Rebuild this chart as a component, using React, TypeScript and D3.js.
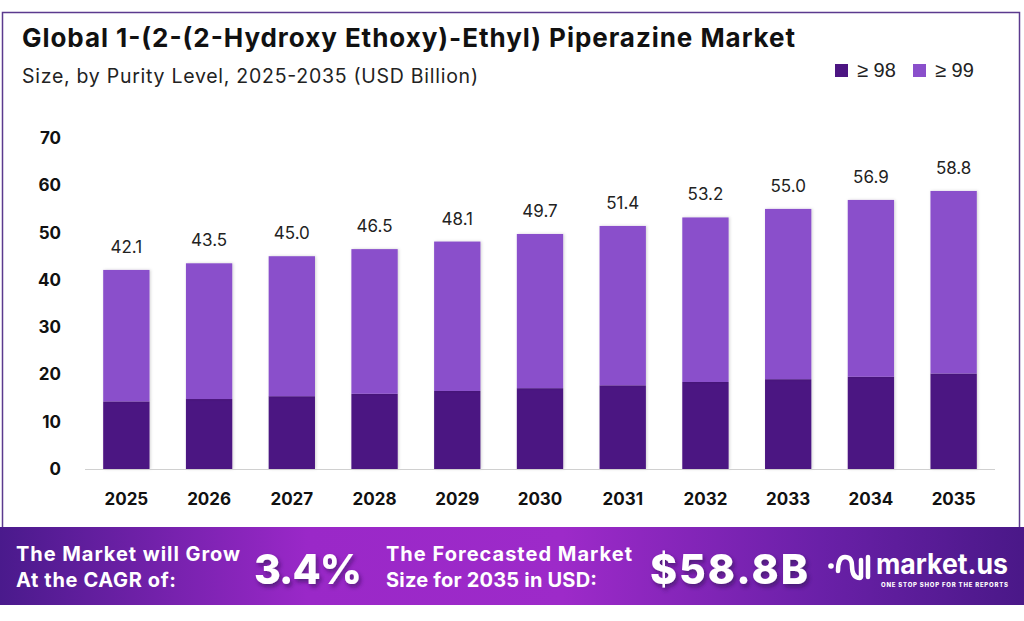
import { useMemo } from "react";
import * as d3 from "d3";

const years = ["2025", "2026", "2027", "2028", "2029", "2030", "2031", "2032", "2033", "2034", "2035"];
const totals = [42.1, 43.5, 45.0, 46.5, 48.1, 49.7, 51.4, 53.2, 55.0, 56.9, 58.8];
const purity98 = [14.3, 14.8, 15.4, 15.9, 16.5, 17.1, 17.7, 18.4, 19.0, 19.5, 20.2];
const purity99 = totals.map((t, i) => +(t - purity98[i]).toFixed(1));
const yTicks = [0, 10, 20, 30, 40, 50, 60, 70];

const seriesKeys = ["p98", "p99"];
const seriesLabels = ["≥ 98", "≥ 99"];
const seriesColors = ["#4c1582", "#8a4fcb"];

const W = 1024;
const H = 621;
const PLOT = { left: 85, right: 995, top: 138, bottom: 469 };

const FONT = "Inter, 'Noto Sans', sans-serif";
const ARIAL = "'Liberation Sans', Arial, sans-serif";

const App = () => {
  const x = useMemo(
    () => d3.scaleBand().domain(years).range([PLOT.left, PLOT.right]).paddingInner(0.44).paddingOuter(0.22),
    []
  );
  const y = useMemo(() => d3.scaleLinear().domain([0, 70]).range([PLOT.bottom, PLOT.top]), []);

  const rows = years.map((yr, i) => ({ year: yr, p98: purity98[i], p99: purity99[i] }));
  const stacked = d3.stack<any>().keys(seriesKeys)(rows);

  return (
    <div style={{ position: "absolute", left: 0, top: 0 }}>
      <svg width={W} height={H} style={{ display: "block" }}>
        <defs>
          <linearGradient id="band" x1="0" x2="1" y1="0" y2="0">
            <stop offset="0" stopColor="#4a1a8c" />
            <stop offset="0.3" stopColor="#9a28c8" />
            <stop offset="0.55" stopColor="#9d2ac9" />
            <stop offset="0.8" stopColor="#6a20a8" />
            <stop offset="1" stopColor="#4a1888" />
          </linearGradient>
          <filter id="shadow" x="-10%" y="-20%" width="130%" height="150%">
            <feDropShadow dx="2" dy="3" stdDeviation="2" floodColor="#2a0850" floodOpacity="0.6" />
          </filter>
          <filter id="barShadow" x="-20%" y="-5%" width="140%" height="110%">
            <feDropShadow dx="1" dy="0" stdDeviation="1.5" floodColor="#000" floodOpacity="0.18" />
          </filter>
        </defs>
        <rect width={W} height={H} fill="#fff" />
        {/* frame */}
        <rect x={2.5} y={12.5} width={1017} height={520} fill="none" stroke="#5b3a8e" strokeWidth={1.5} />

        <text x={22} y={47} fontFamily={FONT} fontWeight={700} fontSize={26} fill="#111" textLength={773} lengthAdjust="spacing">
          Global 1-(2-(2-Hydroxy Ethoxy)-Ethyl) Piperazine Market
        </text>
        <text x={22} y={83} fontFamily={FONT} fontSize={19.5} fill="#222" textLength={456} lengthAdjust="spacing">
          Size, by Purity Level, 2025-2035 (USD Billion)
        </text>

        {/* legend */}
        {seriesLabels.map((lab, i) => (
          <g key={lab} transform={`translate(${835 + i * 78},64)`}>
            <rect width={13} height={13} fill={seriesColors[i]} />
            <text x={22} y={13} fontFamily={ARIAL} fontSize={20} fill="#222">
              {lab}
            </text>
          </g>
        ))}

        {/* y axis labels */}
        {yTicks.map((t) => (
          <text key={t} x={61} y={y(t) + 6} textAnchor="end" fontFamily={FONT} fontWeight={700} fontSize={17} fill="#111">
            {t}
          </text>
        ))}

        {/* bars */}
        {stacked.map((s, si) => (
          <g key={s.key}>
            {s.map((d, i) => (
              <rect
                key={i}
                x={x(years[i])!}
                y={y(d[1])}
                width={x.bandwidth()}
                height={y(d[0]) - y(d[1])}
                fill={seriesColors[si]}
                filter="url(#barShadow)"
              />
            ))}
          </g>
        ))}

        <line x1={PLOT.left} x2={PLOT.right} y1={PLOT.bottom + 0.5} y2={PLOT.bottom + 0.5} stroke="#d0d0d0" strokeWidth={1} />

        {/* totals */}
        {totals.map((t, i) => (
          <text
            key={i}
            x={x(years[i])! + x.bandwidth() / 2}
            y={y(t) - 17}
            textAnchor="middle"
            fontFamily={FONT}
            fontSize={17}
            fill="#222"
          >
            {t.toFixed(1)}
          </text>
        ))}

        {/* x labels */}
        {years.map((yr) => (
          <text
            key={yr}
            x={x(yr)! + x.bandwidth() / 2}
            y={505}
            textAnchor="middle"
            fontFamily={FONT}
            fontWeight={700}
            fontSize={17}
            fill="#111"
          >
            {yr}
          </text>
        ))}

        {/* banner */}
        <rect x={0} y={527} width={W} height={78} fill="url(#band)" />
        <g fontFamily={FONT} fontWeight={700} fill="#fff">
          <text x={16} y={561} fontSize={20} textLength={224} lengthAdjust="spacing">The Market will Grow</text>
          <text x={16} y={587} fontSize={20} textLength={160} lengthAdjust="spacing">At the CAGR of:</text>
          <text x={254} y={584} fontSize={41} fontWeight={800} filter="url(#shadow)" textLength={108} lengthAdjust="spacing">3.4%</text>
          <text x={386} y={561} fontSize={20} textLength={246} lengthAdjust="spacing">The Forecasted Market</text>
          <text x={386} y={587} fontSize={20} textLength={211} lengthAdjust="spacing">Size for 2035 in USD:</text>
          <text x={650} y={584} fontSize={41} fontWeight={800} filter="url(#shadow)" textLength={158} lengthAdjust="spacing">$58.8B</text>
        </g>

        {/* logo */}
        <g fill="none" stroke="#fff" strokeLinecap="round" strokeWidth={4.5}>
          <circle cx={831} cy={566} r={2.8} fill="#fff" stroke="none" />
          <path d="M838 571 Q838 557 845 557 Q852 557 852 566 Q852 578 860 578" />
          <line x1={861} y1={560} x2={861} y2={577} />
          <line x1={868} y1={557} x2={868} y2={577} />
        </g>
        <text x={876} y={574} fontFamily={FONT} fontWeight={700} fontSize={28} fill="#fff" textLength={132} lengthAdjust="spacingAndGlyphs">
          market.us
        </text>
        <text x={881} y={587} fontFamily={FONT} fontWeight={800} fontSize={6} fill="#fff" textLength={127} lengthAdjust="spacing">
          ONE STOP SHOP FOR THE REPORTS
        </text>
      </svg>
    </div>
  );
};

export default App;
